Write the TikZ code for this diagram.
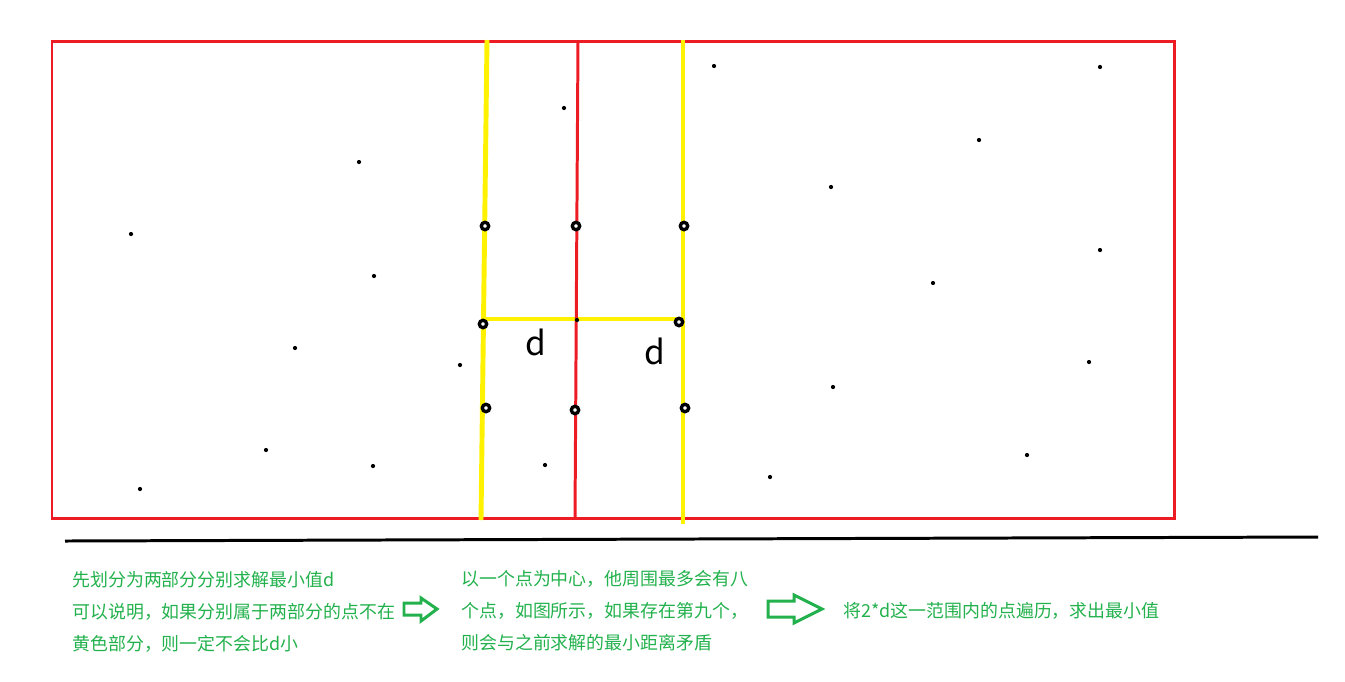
\documentclass[tikz,border=0pt]{standalone}
\usepackage{fontspec}
\newfontfamily\cjk{Noto Sans CJK SC}
\usetikzlibrary{positioning}

\definecolor{framered}{RGB}{237,28,36}
\definecolor{stripyellow}{RGB}{255,242,0}
\definecolor{notegreen}{RGB}{34,177,76}

\tikzset{
  pt/.style={circle, fill=black, inner sep=0pt, minimum size=2.4pt},
  ring/.style={circle, draw=black, fill=white, line width=1.9pt, inner sep=0pt, minimum size=4.2pt},
  note/.style={anchor=base west, inner sep=0pt, text=notegreen, font=\cjk\fontsize{10.2pt}{14pt}\selectfont},
  dmark/.style={inner sep=0pt, font=\cjk\fontsize{19pt}{22pt}\selectfont},
  redline/.style={draw=framered, line width=1.7pt},
  yellowline/.style={draw=stripyellow, line width=2.8pt},
  hollowarrow/.style={draw=notegreen, line width=1.7pt, line join=miter}
}

\begin{document}
\begin{tikzpicture}[x=0.02cm, y=-0.02cm]
  \useasboundingbox (0,0) rectangle (1345,681);

  % Frame and strip
  \draw[redline] (52,41) rectangle (1174,518);
  \draw[yellowline] (487,40) -- (481,520);
  \draw[yellowline] (683,40) -- (683,524);
  \draw[yellowline] (483,319) -- (680,319);
  \draw[redline] (578,41) -- (575,518);

  % Define nodes
  \foreach \x/\y [count=\i] in {564/108, 359/162, 131/234, 374/276, 295/348,
      460/365, 266/450, 373/466, 140/489, 545/465, 714/66, 1100/67, 979/140,
      831/187, 1100/250, 933/283, 1089/362, 833/387, 1027/455, 770/477, 577/320}
    \node[pt] (p\i) at (\x,\y) {};

  \foreach \x/\y [count=\i] in {485/226, 576/226, 684/226, 483/324, 679/322,
      486/408, 575/410, 685/408}
    \node[ring] (r\i) at (\x,\y) {};

  \node[dmark] (dleft) at (536,342) {d};
  \node[dmark] (dright) at (655,351) {d};

  % Separator
  \coordinate (rulewest) at (65,541);
  \coordinate (ruleeast) at (1318,537);
  \draw[line width=1.7pt] (rulewest) -- (ruleeast);

  % Notes
  \node[note] (left1) at (72,586) {先划分为两部分分别求解最小值d};
  \node[note] (left2) at ([yshift=-0.64cm]left1.base west) {可以说明，如果分别属于两部分的点不在};
  \node[note] (left3) at ([yshift=-0.64cm]left2.base west) {黄色部分，则一定不会比d小};
  \node[note] (mid1) at (461,585) {以一个点为中心，他周围最多会有八};
  \node[note] (mid2) at ([yshift=-0.64cm]mid1.base west) {个点，如图所示，如果存在第九个，};
  \node[note] (mid3) at ([yshift=-0.64cm]mid2.base west) {则会与之前求解的最小距离矛盾};
  \node[note] (right1) at (843,617) {将2*d这一范围内的点遍历，求出最小值};

  % Arrows between the notes
  \draw[hollowarrow] (404,603) -- (421,603) -- (421,598) -- (437,609)
    -- (421,621) -- (421,615) -- (404,615) -- cycle;
  \draw[hollowarrow] (768,601) -- (794,601) -- (794,595) -- (822,609)
    -- (794,623) -- (794,617) -- (768,617) -- cycle;

\end{tikzpicture}
\end{document}
